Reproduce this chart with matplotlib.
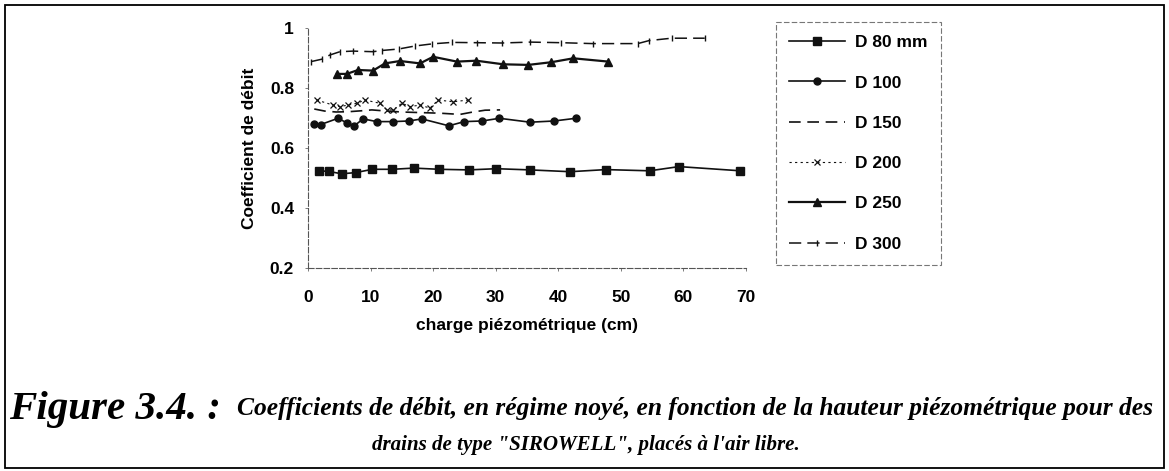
import matplotlib
matplotlib.use("Agg")
import matplotlib.pyplot as plt
from matplotlib.patches import Rectangle

# ---------------- data ----------------
x80 = [1.8, 3.3, 5.4, 7.6, 10.3, 13.5, 16.9, 21.0, 25.7, 30.1, 35.5, 41.9, 47.6, 54.6, 59.3, 69.1]
y80 = [0.524, 0.522, 0.514, 0.518, 0.529, 0.529, 0.533, 0.529, 0.527, 0.531, 0.527, 0.521, 0.528, 0.524, 0.538, 0.524]

x100 = [1.0, 2.0, 4.8, 6.2, 7.4, 8.8, 11.0, 13.6, 16.1, 18.2, 22.5, 25.0, 27.8, 30.6, 35.5, 39.3, 42.8]
y100 = [0.680, 0.678, 0.699, 0.684, 0.674, 0.697, 0.688, 0.688, 0.690, 0.697, 0.674, 0.688, 0.690, 0.699, 0.686, 0.690, 0.699]

x150 = [1.0, 2.7, 4.5, 6.5, 8.5, 10.2, 12.6, 15.0, 18.0, 21.1, 24.3, 26.1, 28.3, 30.7]
y150 = [0.730, 0.723, 0.720, 0.721, 0.724, 0.727, 0.723, 0.720, 0.718, 0.716, 0.712, 0.719, 0.726, 0.727]

x200 = [1.4, 4.0, 5.1, 6.4, 7.8, 9.1, 11.5, 12.6, 13.6, 15.0, 16.3, 17.9, 19.5, 20.8, 23.2, 25.6]
y200 = [0.760, 0.743, 0.738, 0.743, 0.749, 0.760, 0.749, 0.727, 0.727, 0.749, 0.738, 0.743, 0.733, 0.760, 0.754, 0.760]

x250 = [4.6, 6.2, 8.0, 10.4, 12.3, 14.7, 17.9, 20.0, 23.8, 26.9, 31.2, 35.2, 38.9, 42.4, 48.0]
y250 = [0.847, 0.847, 0.860, 0.858, 0.882, 0.890, 0.882, 0.904, 0.888, 0.891, 0.879, 0.877, 0.886, 0.899, 0.888]

x300 = [0.5, 2.2, 3.5, 5.1, 7.2, 10.4, 11.8, 14.5, 17.1, 19.8, 23.0, 27.0, 31.0, 35.5, 40.5, 45.5, 52.7, 54.5, 58.1, 63.4]
y300 = [0.888, 0.896, 0.910, 0.921, 0.923, 0.921, 0.925, 0.930, 0.940, 0.947, 0.952, 0.951, 0.950, 0.953, 0.951, 0.948, 0.948, 0.958, 0.966, 0.966]

labels = ["D 80 mm", "D 100", "D 150", "D 200", "D 250", "D 300"]
xticks = [0, 10, 20, 30, 40, 50, 60, 70]
yticks = [0.2, 0.4, 0.6, 0.8, 1.0]
ytick_labels = ["0.2", "0.4", "0.6", "0.8", "1"]

# ---------------- figure ----------------
W, H = 1169, 471
fig = plt.figure(figsize=(W / 100, H / 100), dpi=100)
fig.patch.set_facecolor("white")

ax_l, ax_r, ax_t, ax_b = 308, 746, 28, 268
ax = fig.add_axes([ax_l / W, 1 - ax_b / H, (ax_r - ax_l) / W, (ax_b - ax_t) / H])

k = "#111111"
ax.plot(x80, y80, color=k, lw=1.2, marker="s", ms=5.5, label=labels[0])
ax.plot(x100, y100, color=k, lw=1.2, marker="o", ms=5, label=labels[1])
ax.plot(x150, y150, color=k, lw=1.2, ls=(0, (7, 4)), label=labels[2])
ax.plot(x200, y200, color=k, lw=0.8, ls=(0, (2, 3)), marker="x", ms=5, mew=0.9, label=labels[3])
ax.plot(x250, y250, color=k, lw=1.6, marker="^", ms=6, label=labels[4])
ax.plot(x300, y300, color=k, lw=1.1, ls=(0, (8, 4)), marker="|", ms=5, mew=1.0, label=labels[5])

ax.set_xlim(0, 70)
ax.set_ylim(0.2, 1.0)
ax.set_xticks(xticks)
ax.set_xticklabels([str(v) for v in xticks])
ax.set_yticks(yticks)
ax.set_yticklabels(ytick_labels)

FS = 12.5
fp = dict(family="Liberation Sans", weight="bold", size=FS)
for lab in ax.get_xticklabels() + ax.get_yticklabels():
    lab.set_fontfamily("Liberation Sans")
    lab.set_fontweight("bold")
    lab.set_fontsize(FS)
ax.tick_params(axis="x", length=2, width=0.6, color="#666666", pad=14, direction="out")
ax.tick_params(axis="y", length=2, width=0.6, color="#666666", pad=8, direction="out")

for s in ["top", "right"]:
    ax.spines[s].set_visible(False)
for s in ["left", "bottom"]:
    ax.spines[s].set_color("#555555")
    ax.spines[s].set_linewidth(0.8)
    ax.spines[s].set_linestyle((0, (5, 2)))

ax.set_xlabel("charge piézométrique (cm)", **fp)
ax.set_ylabel("Coefficient de débit", **fp)
ax.xaxis.set_label_coords(0.5, -(318 - ax_b) / (ax_b - ax_t))
ax.yaxis.set_label_coords(-(ax_l - 257) / (ax_r - ax_l), 0.5)

leg = fig.legend(loc="upper left", bbox_to_anchor=(776 / W, 1 - 22 / H),
                 prop=dict(family="Liberation Sans", weight="bold", size=FS),
                 frameon=True, fancybox=False, handlelength=3.2, handletextpad=0.6,
                 labelspacing=1.45, borderpad=0.75, borderaxespad=0.0)
fr = leg.get_frame()
fr.set_edgecolor("#555555")
fr.set_linewidth(0.8)
fr.set_linestyle((0, (5, 2)))

# outer border
fig.patches.append(Rectangle((5 / W, 3 / H), (1164 - 5) / W, (466 - 3) / H,
                             transform=fig.transFigure, fill=False,
                             edgecolor="black", lw=1.3))

# caption
cap_fam = "Liberation Serif"
t1 = fig.text(9 / W, 1 - 409 / H, "Figure 3.4. :", family=cap_fam, weight="bold",
              style="italic", size=20, ha="left", va="center")
t2 = fig.text(237 / W, 1 - 409 / H,
              "Coefficients de débit, en régime noyé, en fonction de la hauteur piézométrique pour des",
              family=cap_fam, weight="bold", style="italic", size=14, ha="left", va="center")
t3 = fig.text(586 / W, 1 - 445 / H,
              "drains de type \"SIROWELL\", placés à l'air libre.",
              family=cap_fam, weight="bold", style="italic", size=14, ha="center", va="center")

renderer = fig.canvas.get_renderer()
for t, target in [(t1, 212), (t2, 918), (t3, 428)]:
    w = t.get_window_extent(renderer).width
    t.set_fontsize(t.get_fontsize() * target / w)

fig.savefig("out.png", dpi=100, facecolor="white")
